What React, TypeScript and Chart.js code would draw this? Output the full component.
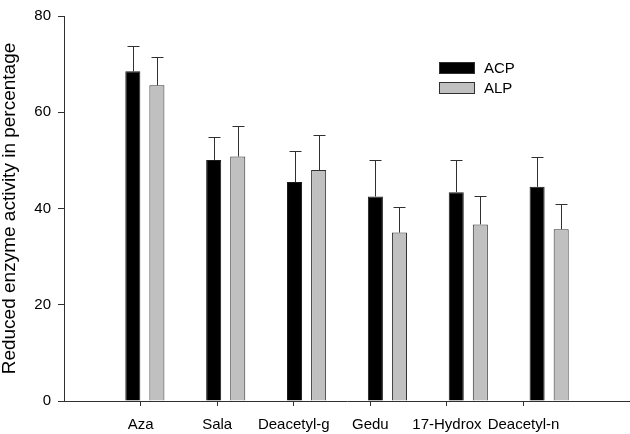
import React, { useEffect, useRef } from "react";
import { Chart, registerables } from "chart.js";

Chart.register(...registerables);

const categories = ["Aza", "Sala", "Deacetyl-g", "Gedu", "17-Hydrox", "Deacetyl-n"];
const acpValues = [68.5, 50.1, 45.5, 42.5, 43.4, 44.5];
const acpErrors = [5.3, 4.8, 6.4, 7.6, 6.6, 6.2];
const alpValues = [65.6, 50.8, 48.0, 35.0, 36.7, 35.7];
const alpErrors = [5.8, 6.4, 7.3, 5.3, 5.8, 5.2];
const yTicks = [0, 20, 40, 60, 80];
const seriesNames = ["ACP", "ALP"];
const seriesColors = ["#000000", "#c0c0c0"];

const FONT = "'Liberation Sans', Arial, sans-serif";

const errorBarPlugin = {
  id: "errorBars",
  afterDatasetsDraw(chart: any) {
    const ctx = chart.ctx;
    const yScale = chart.scales.y;
    ctx.save();
    ctx.strokeStyle = "#303030";
    ctx.lineWidth = 1;
    chart.data.datasets.forEach((ds: any, di: number) => {
      const meta = chart.getDatasetMeta(di);
      const errs: number[] = ds.errors || [];
      meta.data.forEach((bar: any, i: number) => {
        const v = ds.data[i].y;
        const top = yScale.getPixelForValue(v + errs[i]);
        const x = Math.round(bar.x) + 0.5;
        const yb = bar.y;
        ctx.beginPath();
        ctx.moveTo(x, yb);
        ctx.lineTo(x, Math.round(top) + 0.5);
        ctx.moveTo(x - 6, Math.round(top) + 0.5);
        ctx.lineTo(x + 6, Math.round(top) + 0.5);
        ctx.stroke();
      });
    });
    ctx.restore();
  },
};

const legendPlugin = {
  id: "insideLegend",
  afterDraw(chart: any) {
    const ctx = chart.ctx;
    ctx.save();
    ctx.font = `15px ${FONT}`;
    ctx.textBaseline = "middle";
    ctx.textAlign = "left";
    chart.data.datasets.forEach((ds: any, i: number) => {
      const bx = 439;
      const by = 62 + i * 20;
      ctx.fillStyle = ds.backgroundColor;
      ctx.fillRect(bx, by, 36, 12);
      ctx.strokeStyle = "#303030";
      ctx.lineWidth = 1;
      ctx.strokeRect(bx + 0.5, by + 0.5, 35, 11);
      ctx.fillStyle = "#000";
      ctx.fillText(ds.label, 484, by + 6.5);
    });
    ctx.restore();
  },
};

export default function App() {
  const ref = useRef<HTMLCanvasElement | null>(null);
  useEffect(() => {
    if (!ref.current) return;
    const mk = (vals: number[]) => vals.map((v, i) => ({ x: i + 1, y: v }));
    const chart = new Chart(ref.current, {
      type: "bar",
      data: {
        datasets: [
          {
            label: seriesNames[0],
            data: mk(acpValues),
            errors: acpErrors,
            backgroundColor: seriesColors[0],
            borderColor: "#1a1a1a",
            borderWidth: 1,
            categoryPercentage: 0.5955,
            barPercentage: 0.625,
            xAxisID: "x",
          } as any,
          {
            label: seriesNames[1],
            data: mk(alpValues),
            errors: alpErrors,
            backgroundColor: seriesColors[1],
            borderColor: "#303030",
            borderWidth: 1,
            categoryPercentage: 0.5955,
            barPercentage: 0.625,
            xAxisID: "x",
          } as any,
        ],
      },
      options: {
        animation: false,
        responsive: false,
        devicePixelRatio: 1,
        layout: { padding: { left: 0, top: 9, right: 0, bottom: 0 } },
        plugins: { legend: { display: false }, tooltip: { enabled: false } },
        scales: {
          x: {
            type: "linear",
            display: false,
            min: 0,
            max: 7,
            offset: false,
          },
          xl: {
            type: "linear",
            position: "bottom",
            min: 0,
            max: 7.39,
            offset: false,
            afterBuildTicks: (s: any) => {
              s.ticks = categories.map((_, i) => ({ value: i + 1 }));
            },
            afterFit: (s: any) => {
              s.height = 33;
            },
            ticks: {
              autoSkip: false,
              maxRotation: 0,
              padding: 10,
              color: "#000",
              font: { family: FONT, size: 15 },
              callback: (v: any) => categories[Math.round(v) - 1] ?? "",
            },
            grid: {
              offset: false,
              drawOnChartArea: false,
              drawTicks: true,
              tickLength: 5,
              color: "#303030",
            },
            border: { display: true, color: "#303030", width: 1 },
          },
          y: {
            type: "linear",
            min: 0,
            max: 80,
            afterBuildTicks: (s: any) => {
              s.ticks = yTicks.map((v) => ({ value: v }));
            },
            afterFit: (s: any) => {
              s.width = 64;
            },
            ticks: {
              padding: 7,
              color: "#000",
              font: { family: FONT, size: 15 },
            },
            grid: {
              drawOnChartArea: false,
              drawTicks: true,
              tickLength: 6,
              color: "#303030",
            },
            border: { display: true, color: "#303030", width: 1 },
            title: {
              display: true,
              text: "Reduced enzyme activity in percentage",
              color: "#000",
              font: { family: FONT, size: 19, lineHeight: 1.0 },
              padding: { top: 0, bottom: 0 },
            },
          },
        },
      } as any,
      plugins: [errorBarPlugin, legendPlugin],
    });
    return () => chart.destroy();
  }, []);
  return (
    <div style={{ position: "absolute", left: 0, top: 0, width: 630, height: 434, background: "#fff" }}>
      <canvas ref={ref} width={630} height={434} />
    </div>
  );
}
